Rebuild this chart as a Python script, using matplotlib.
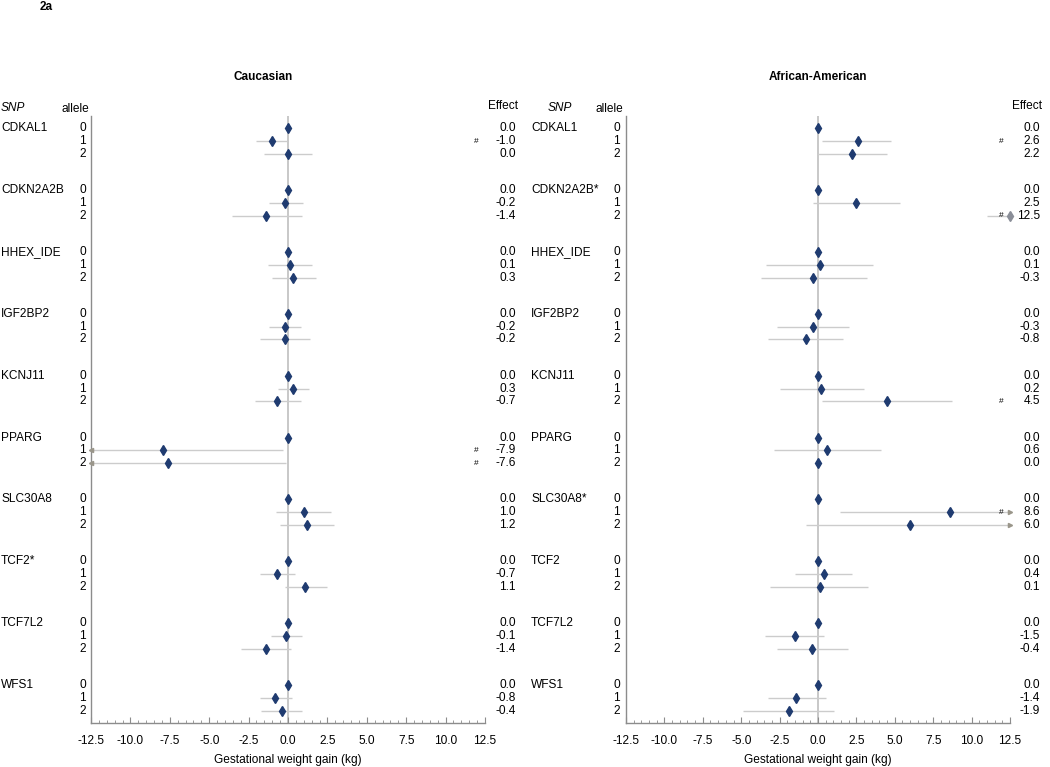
import numpy as np
import matplotlib
matplotlib.use('Agg')
import matplotlib.pyplot as plt
from matplotlib.transforms import blended_transform_factory
from matplotlib.ticker import MultipleLocator

plt.rcParams['font.family'] = ['Liberation Sans', 'DejaVu Sans']

genes_cau = ['CDKAL1', 'CDKN2A2B', 'HHEX_IDE', 'IGF2BP2', 'KCNJ11',
             'PPARG', 'SLC30A8', 'TCF2*', 'TCF7L2', 'WFS1']
genes_aa = ['CDKAL1', 'CDKN2A2B*', 'HHEX_IDE', 'IGF2BP2', 'KCNJ11',
            'PPARG', 'SLC30A8*', 'TCF2', 'TCF7L2', 'WFS1']
alleles = [0, 1, 2]

# estimates and 95% CI per gene x allele (kg)
cau_est = [0.0, -1.0, 0.0, 0.0, -0.2, -1.4, 0.0, 0.1, 0.3, 0.0, -0.2, -0.2,
           0.0, 0.3, -0.7, 0.0, -7.9, -7.6, 0.0, 1.0, 1.2, 0.0, -0.7, 1.1,
           0.0, -0.1, -1.4, 0.0, -0.8, -0.4]
cau_lo = [0, -2.0, -1.5, 0, -1.2, -3.55, 0, -1.25, -1.0, 0, -1.2, -1.75,
          0, -0.65, -2.1, 0, -14.0, -14.0, 0, -0.75, -0.5, 0, -1.8, -0.2,
          0, -1.1, -3.0, 0, -1.8, -1.7]
cau_hi = [0, -0.05, 1.5, 0, 0.95, 0.9, 0, 1.55, 1.75, 0, 0.85, 1.4,
          0, 1.35, 0.8, 0, -0.3, -0.15, 0, 2.7, 2.9, 0, 0.45, 2.45,
          0, 0.9, 0.2, 0, 0.25, 0.9]
cau_sig = [0, 1, 0, 0, 0, 0, 0, 0, 0, 0, 0, 0, 0, 0, 0,
           0, 1, 1, 0, 0, 0, 0, 0, 0, 0, 0, 0, 0, 0, 0]

aa_est = [0.0, 2.6, 2.2, 0.0, 2.5, 12.5, 0.0, 0.1, -0.3, 0.0, -0.3, -0.8,
          0.0, 0.2, 4.5, 0.0, 0.6, 0.0, 0.0, 8.6, 6.0, 0.0, 0.4, 0.1,
          0.0, -1.5, -0.4, 0.0, -1.4, -1.9]
aa_lo = [0, 0.25, -0.05, 0, -0.35, 11.0, 0, -3.4, -3.7, 0, -2.65, -3.25,
         0, -2.5, 0.25, 0, -2.85, 0.0, 0, 1.4, -0.8, 0, -1.5, -3.1,
         0, -3.45, -2.65, 0, -3.25, -4.9]
aa_hi = [0, 4.75, 4.5, 0, 5.35, 14.0, 0, 3.6, 3.2, 0, 2.05, 1.65,
         0, 3.0, 8.7, 0, 4.1, 0.0, 0, 15.0, 15.0, 0, 2.2, 3.25,
         0, 0.4, 1.95, 0, 0.5, 1.05]
aa_sig = [0, 1, 0, 0, 0, 1, 0, 0, 0, 0, 0, 0, 0, 0, 1,
          0, 0, 0, 0, 1, 0, 0, 0, 0, 0, 0, 0, 0, 0, 0]

XMIN, XMAX = -12.5, 12.5
STEP = 4.83
NAVY = '#1f3b70'
CI_COL = '#cccccc'
ARROW_COL = '#9a968a'
SPINE_COL = '#8c8c8c'
FS = 8.6

fig = plt.figure(figsize=(10.5, 7.67), dpi=100)


def px(x):
    return x / 1050.0


def py(y):
    return 1 - y / 767.0


def panel(rect, title, genes, est, lo, hi, sig, cols):
    ax = fig.add_axes(rect)
    ys = [g * STEP + a for g in range(len(genes)) for a in alleles]
    ax.axvline(0, color='#c4c4c4', lw=1.3, zorder=1)
    for i, y in enumerate(ys):
        if lo[i] != hi[i]:
            ax.plot([max(lo[i], XMIN), min(hi[i], XMAX)], [y, y],
                    color=CI_COL, lw=1.0, zorder=2, solid_capstyle='butt')
        if lo[i] < XMIN:
            ax.plot(XMIN, y, marker='<', ms=3, color=ARROW_COL,
                    clip_on=False, zorder=3)
        if hi[i] > XMAX and est[i] < XMAX:
            ax.plot(XMAX, y, marker='>', ms=3, color=ARROW_COL,
                    clip_on=False, zorder=3)
        col = '#8a8e98' if est[i] >= XMAX else NAVY
        ax.plot(est[i], y, marker='d', ms=5.2, color=col,
                mec=col, clip_on=False, zorder=4)

    ax.set_xlim(XMIN, XMAX)
    ax.set_ylim(ys[-1] + 0.96, -0.98)
    ticks = np.arange(XMIN, XMAX + 0.1, 2.5)
    ax.set_xticks(ticks)
    ax.set_xticklabels(['%.1f' % v for v in ticks])
    ax.xaxis.set_minor_locator(MultipleLocator(0.5))
    ax.tick_params(axis='x', which='major', direction='in', length=4,
                   color=SPINE_COL, labelsize=8.6, pad=8.5)
    ax.tick_params(axis='x', which='minor', direction='in', length=2.5,
                   color=SPINE_COL)
    ax.set_yticks([])
    for s in ['top', 'right']:
        ax.spines[s].set_visible(False)
    for s in ['left', 'bottom']:
        ax.spines[s].set_color(SPINE_COL)
        ax.spines[s].set_linewidth(1.0)
    ax.set_xlabel('Gestational weight gain (kg)', fontsize=8.6, labelpad=5)

    gene_x, snp_x, allele_x, hash_x, eff_x, title_x = cols
    tr = blended_transform_factory(fig.transFigure, ax.transData)
    for g, name in enumerate(genes):
        fig.text(px(gene_x), g * STEP, name, transform=tr, fontsize=FS,
                 va='center', ha='left')
    for i, y in enumerate(ys):
        fig.text(px(allele_x), y, str(alleles[i % 3]), transform=tr,
                 fontsize=FS, va='center', ha='right')
        fig.text(px(eff_x), y, '%.1f' % est[i], transform=tr,
                 fontsize=FS, va='center', ha='right')
        if sig[i]:
            fig.text(px(hash_x), y, '#', transform=tr, fontsize=6,
                     va='center', ha='center')

    fig.text(px(snp_x), py(108), 'SNP', fontsize=FS, style='italic',
             ha='left', va='center')
    fig.text(px(allele_x + 3), py(109), 'allele', fontsize=FS,
             ha='right', va='center')
    fig.text(px(eff_x + 2), py(106), 'Effect', fontsize=FS,
             ha='right', va='center')
    fig.text(px(title_x), py(77), title, fontsize=8.5, weight='bold',
             ha='center', va='center')
    return ax


panel([px(91), py(723), px(394), (723 - 115.7) / 767.0], 'Caucasian',
      genes_cau, cau_est, cau_lo, cau_hi, cau_sig,
      (1, 1, 86, 476, 516, 263))
panel([px(626), py(723), px(384), (723 - 115.7) / 767.0], 'African-American',
      genes_aa, aa_est, aa_lo, aa_hi, aa_sig,
      (531, 548, 620, 1001, 1040, 818))

fig.text(px(46), py(7), '2a', fontsize=8.5, weight='bold',
         ha='center', va='center')

fig.savefig('out.png', dpi=100)
